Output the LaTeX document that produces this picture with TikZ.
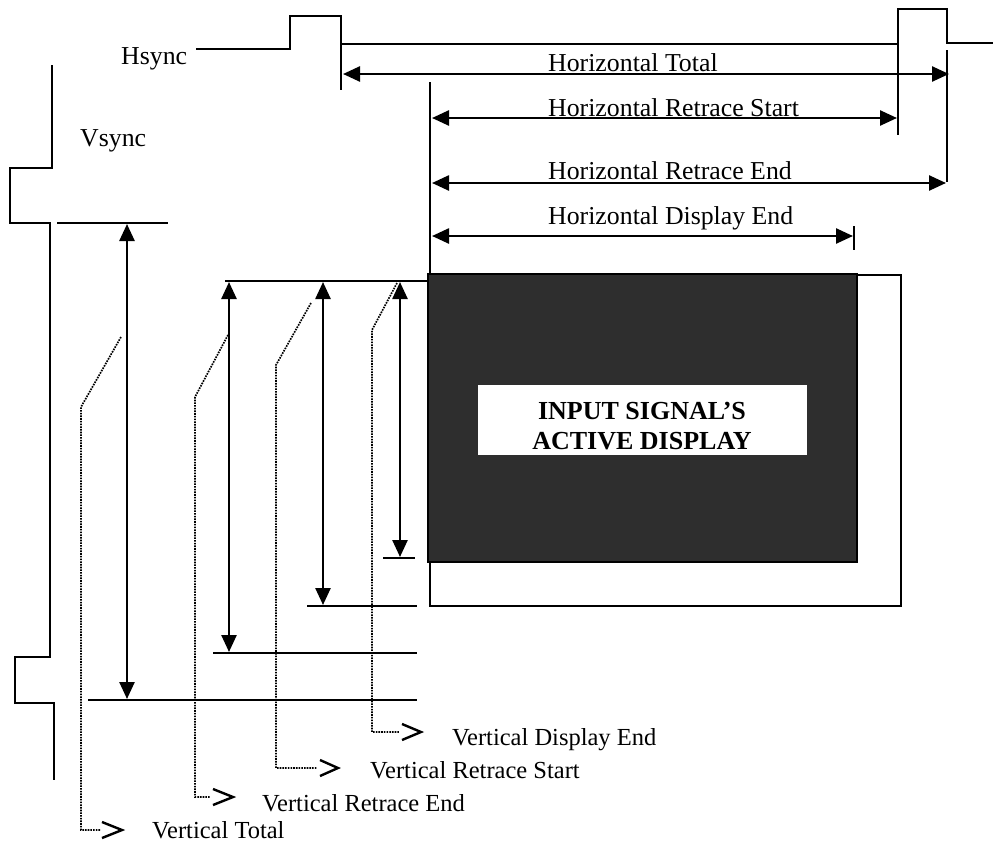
\documentclass[tikz,border=0pt]{standalone}
\usepackage{fontspec}
\setmainfont{Liberation Serif}
\usetikzlibrary{arrows.meta}
\begin{document}
\begin{tikzpicture}[x=1pt,y=-1pt,
  sig/.style={line width=2.8pt},
  refl/.style={line width=2.3pt},
  dim/.style={line width=2.5pt,{Triangle[length=17pt,width=15pt]}-{Triangle[length=17pt,width=15pt]}},
  lead/.style={line width=1.7pt,dash pattern=on 1.6pt off 1.1pt},
  chev/.style={line width=2.4pt},
  lbl/.style={anchor=base west,inner sep=0pt,font=\fontsize{25.8}{30}\selectfont},
  vlbl/.style={anchor=base west,inner sep=0pt,font=\fontsize{24.5}{29}\selectfont}]
\useasboundingbox (0,0) rectangle (993,846);

% Hsync waveform
\draw[sig] (196,49) -- (290,49) -- (290,16) -- (341,16) -- (341,90);
\draw[sig] (341,44) -- (898,44) -- (898,9) -- (947,9) -- (947,43) -- (993,43);
\draw[sig] (898,9) -- (898,135);
\draw[sig] (947,50) -- (947,182);

% Vsync waveform
\draw[sig] (52,65) -- (52,168) -- (10,168) -- (10,223) -- (50,223) -- (50,657)
  -- (15,657) -- (15,703) -- (54,703) -- (54,780);

% frame and active display
\draw[refl] (430,82) -- (430,275);
\draw[refl] (430,275) rectangle (901,606);
\draw[line width=2.5pt,fill=black!82] (428,274) rectangle (857,562);
\fill[white] (478,385) rectangle (807,455);
\node[align=center,inner sep=0pt,font=\fontsize{26}{30}\selectfont\bfseries] (active) at (642,426)
  {INPUT SIGNAL’S\\ACTIVE DISPLAY};

% reference lines
\draw[refl] (57,223) -- (168,223);
\draw[refl] (88,700) -- (417,700);
\draw[refl] (213,653) -- (417,653);
\draw[refl] (307,606) -- (417,606);
\draw[refl] (383,558) -- (415,558);
\draw[refl] (225,281) -- (428,281);
\draw[refl] (854,226) -- (854,250);

% horizontal dimensions
\draw[dim] (343,74) -- (949,74);
\draw[dim] (432,118) -- (897,118);
\draw[dim] (432,183) -- (946,183);
\draw[dim] (432,236) -- (853,236);

% vertical dimensions
\draw[dim] (127,224) -- (127,699);
\draw[dim] (229,282) -- (229,652);
\draw[dim] (323,282) -- (323,605);
\draw[dim] (400,282) -- (400,557);

% leaders
\draw[lead] (121,337) -- (81,407) -- (81,830) -- (100,830);
\draw[chev] (102,822) -- (122,830) -- (102,838);
\draw[lead] (228,335) -- (195,397) -- (195,797) -- (210,797);
\draw[chev] (213,789) -- (233,797) -- (213,805);
\draw[lead] (311,303) -- (276,365) -- (276,768) -- (317,768);
\draw[chev] (320,760) -- (338,768) -- (320,776);
\draw[lead] (397,283) -- (372,330) -- (372,732) -- (400,732);
\draw[chev] (402,724) -- (421,732) -- (402,740);

% labels
\node[lbl] (hsync) at (121,64) {Hsync};
\node[lbl] (vsync) at (80,146) {Vsync};
\node[lbl] (ht) at (548,71) {Horizontal Total};
\node[lbl] (hrs) at (548,116) {Horizontal Retrace Start};
\node[lbl] (hre) at (548,179) {Horizontal Retrace End};
\node[lbl] (hde) at (548,224) {Horizontal Display End};
\node[vlbl] (vde) at (452,745) {Vertical Display End};
\node[vlbl] (vrs) at (370,778) {Vertical Retrace Start};
\node[vlbl] (vre) at (262,811) {Vertical Retrace End};
\node[vlbl] (vt) at (152,838) {Vertical Total};
\end{tikzpicture}
\end{document}
